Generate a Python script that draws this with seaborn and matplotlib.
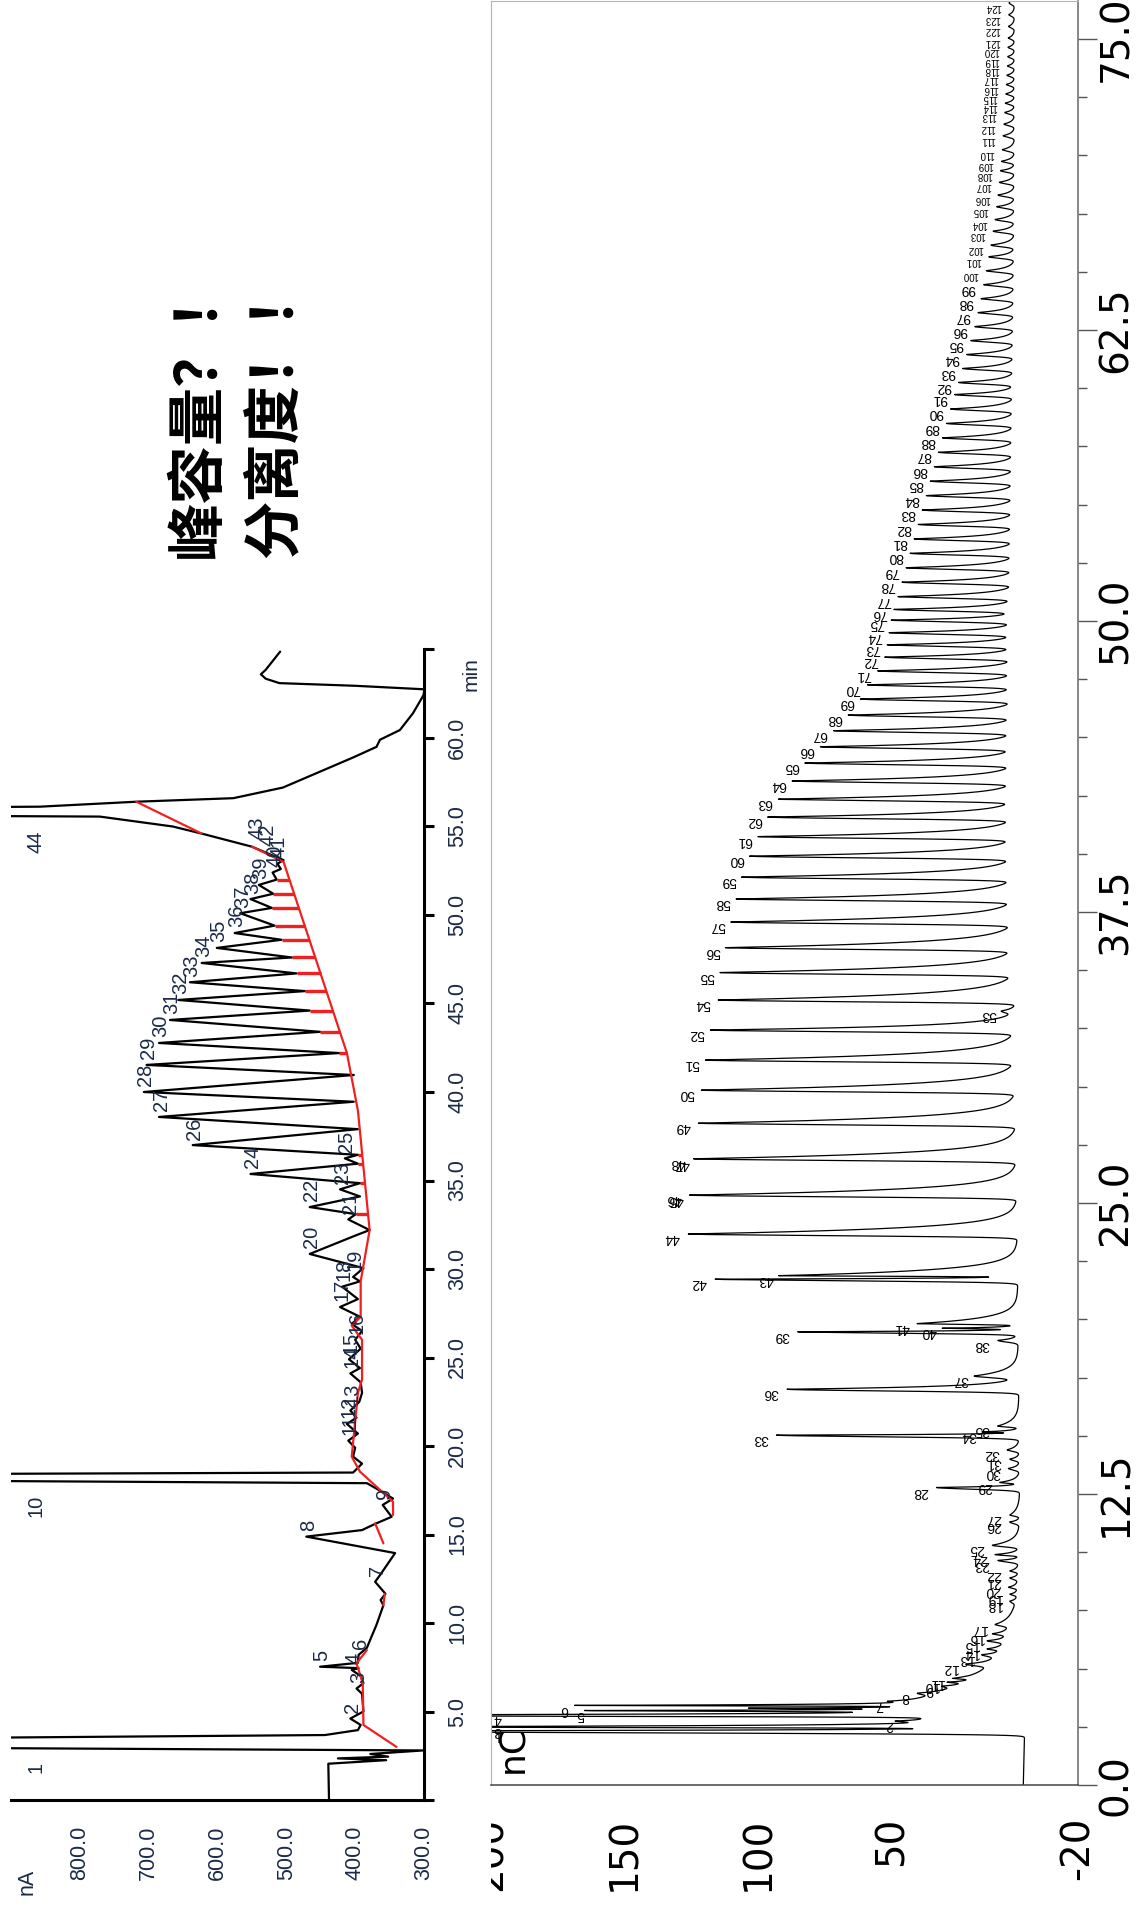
import numpy as np
import matplotlib
matplotlib.use("Agg")
import matplotlib.pyplot as plt
import seaborn as sns
from matplotlib.ticker import MultipleLocator
from matplotlib.transforms import Bbox
from matplotlib import font_manager

sns.set_style("white")
plt.rcParams["font.family"] = ["Liberation Sans", "DejaVu Sans"]

# ---------------- left chromatogram: trace vertices (min, nA) ----------------
fid_t = [0.00, 2.05, 2.25, 2.35, 2.45, 2.60, 2.80, 3.05, 3.35, 3.67, 3.95, 4.24, 4.60, 5.00,
         6.00, 6.30, 6.60, 7.00, 7.35, 7.45, 7.53, 7.75, 8.20, 8.60, 9.90, 11.00, 11.30, 11.65,
         12.33, 12.70, 13.95, 14.88, 15.25, 15.60, 16.00, 16.67, 17.03, 17.50, 17.90, 18.15,
         18.35, 18.50, 19.00, 19.40, 19.90, 20.30, 20.70, 21.25, 21.60, 22.00, 22.50, 23.00,
         23.60, 24.10, 24.40, 24.90, 25.50, 26.00, 26.50, 26.90, 27.30, 27.85, 28.30, 29.00,
         29.30, 29.55, 30.05, 30.85, 31.90, 32.20, 32.80, 33.10, 33.50, 34.10, 34.50, 34.85,
         35.37, 35.95, 36.25, 36.45, 37.00, 37.90, 38.59, 39.45, 40.00, 40.96, 41.53, 42.20,
         42.77, 43.40, 44.07, 44.60, 45.20, 45.70, 46.20, 46.70, 47.29, 47.60, 48.14, 48.60,
         48.98, 49.40, 50.10, 50.40, 50.90, 51.20, 51.70, 52.00, 52.40, 52.60, 52.90, 53.10,
         53.86, 54.60, 55.00, 55.56, 55.70, 55.95, 56.12, 56.40, 56.60, 57.20, 58.10, 58.90,
         59.50, 59.90, 60.45, 61.40, 62.40, 62.75, 62.95, 63.10, 63.35, 63.60, 63.85, 64.88]
fid_v = [438, 439, 355, 425, 352, 378, 301, 1500, 1500, 444, 396, 392, 407, 388,
         390, 398, 388, 392, 405, 395, 451, 396, 395, 383, 369, 359, 363, 356,
         371, 364, 342, 471, 390, 371, 347, 360, 345, 365, 383, 1500,
         1500, 403, 390, 403, 400, 410, 396, 412, 398, 407, 394, 390,
         392, 407, 393, 409, 392, 400, 390, 405, 393, 422, 396, 419,
         393, 403, 388, 466, 399, 379, 410, 399, 466, 393, 422, 393,
         552, 396, 415, 396, 636, 396, 685, 402, 707, 402, 703, 423,
         685, 451, 669, 466, 657, 473, 640, 485, 623, 492, 601, 507,
         575, 517, 567, 521, 552, 519, 540, 514, 520, 508, 513, 504,
         550, 623, 665, 771, 1500, 1500, 858, 718, 577, 505, 451, 403,
         369, 364, 335, 316, 301, 299, 400, 510, 530, 537, 530, 509]

# integration baseline (red), one list per segment
base_t = [[3.0, 4.24, 6.6, 7.72, 8.47],
          [11.0, 11.65],
          [14.5, 15.63],
          [16.1, 16.85, 18.55, 19.4, 23.0, 23.75, 26.0, 26.8, 27.3, 29.3, 32.2, 38.95, 42.2, 53.0, 53.86],
          [54.6, 56.4]]
base_v = [[340, 388, 389, 398, 383],
          [359, 357],
          [359, 371],
          [345, 345, 393, 405, 396, 390, 390, 405, 392, 392, 379, 396, 412, 504, 550],
          [623, 718]]
drop_t = [33.1, 34.85, 35.95, 36.45, 42.2, 43.4, 44.6, 45.7, 46.7, 47.6, 48.6, 49.4,
          50.4, 51.2, 52.0]

fid_lbl = [str(i) for i in range(1, 45)]
fid_lbl_t = [3.2, 4.6, 6.3, 7.35, 7.53, 8.2, 12.33, 14.88, 16.67, 18.25, 20.3, 21.25, 22.0,
             24.1, 24.9, 26.0, 27.85, 29.0, 29.55, 30.85, 32.8, 33.5, 34.5, 35.37, 36.25,
             37.0, 38.59, 40.0, 41.53, 42.77, 44.07, 45.2, 46.2, 47.29, 48.14, 48.98, 50.1,
             50.9, 51.7, 52.4, 52.9, 53.6, 54.0, 55.8]
fid_lbl_v = [1500, 407, 398, 405, 451, 395, 371, 471, 360, 1500, 410, 412, 407,
             407, 409, 400, 422, 419, 403, 466, 410, 466, 422, 552, 415,
             636, 685, 707, 703, 685, 669, 657, 640, 623, 601, 575, 567,
             552, 540, 520, 513, 530, 545, 1500]

# ---------------- right chromatogram: peak table (min, nC) ----------------
pk_lbl = ["1", "3", "2", "4", "5", "", "6", "7", "8", "9", "10", "11", "12", "13", "14",
          "15", "16", "17", "18", "19", "20", "21", "22", "23", "24", "25", "26", "27",
          "28", "29", "30", "31", "32", "33", "34", "35", "36", "37", "38", "39", "40",
          "41", "42", "43", "44", "46", "48"] + [str(i) for i in range(49, 125)]
pk_t = [2.32, 2.50, 2.75, 3.00, 3.20, 3.30, 3.42, 3.60, 3.95, 4.25, 4.42, 4.58, 5.20, 5.60,
        5.85, 6.20, 6.50, 6.90, 7.90, 8.20, 8.50, 8.90, 9.20, 9.65, 9.90, 10.30, 11.30,
        11.60, 12.78, 13.00, 13.60, 14.00, 14.40, 15.03, 15.17, 15.42, 17.00, 17.57, 19.10,
        19.47, 19.62, 19.82, 21.73, 21.88, 23.67, 25.34, 26.90,
        28.43, 29.85, 31.14, 32.43, 33.25, 33.72, 34.90, 35.97, 37.07, 38.06, 39.00, 39.90,
        40.74, 41.58, 42.35, 43.13, 43.90, 44.60, 45.29, 45.96, 46.65, 47.26, 47.86, 48.45,
        48.98, 49.50, 50.04, 50.50, 51.05, 51.67, 52.29, 52.91, 53.53, 54.15, 54.77, 55.39,
        56.01, 56.63, 57.25, 57.87, 58.49, 59.11, 59.73, 60.25, 60.85, 61.45, 62.05, 62.65,
        63.25, 63.85, 64.45, 65.05, 65.65, 66.15, 66.75, 67.25, 67.80, 68.30, 68.85, 69.35,
        69.75, 70.25, 70.85, 71.35, 71.85, 72.25, 72.65, 73.05, 73.45, 73.85, 74.25, 74.65,
        75.05, 75.55, 76.05, 76.55]
pk_v = [280, 260, 46, 320, 162, 101, 168, 50, 40, 31, 29, 27, 22, 16,
        14, 14, 12, 11, 5.5, 5.5, 6, 5.5, 5.5, 10, 11, 12, 5.5,
        5.5, 33, 9, 6, 5.5, 6.5, 93, 15, 10, 89, 18, 10,
        85, 30, 40, 116, 91, 126, 125.4, 123.8,
        122, 120.7, 118.8, 117, 7.5, 114.7, 113, 111, 109, 107, 105, 102,
        98.9, 95.3, 91.3, 86.2, 81.5, 75.7, 70.8, 65.4, 60.9, 58.3, 54.5, 51.9,
        51, 50.3, 49.5, 48.5, 47, 45.5, 44, 42.5, 41, 39.5, 38, 36.5,
        35, 33.5, 32, 30.5, 29, 27.5, 26, 24.5, 23, 21.5, 20, 18.5,
        17.3, 16.2, 15.2, 14.2, 13.3, 12.5, 11.7, 11, 10.4, 9.9, 9.4, 9.0,
        8.6, 8.3, 8.0, 7.7, 7.4, 7.2, 7.0, 6.8, 6.6, 6.4, 6.3, 6.2,
        6.1, 6.0, 5.9, 5.8]
# labels drawn over a neighbour peak
extra_lbl = ["45", "47"]
extra_t = [25.30, 26.86]
extra_v = [124.5, 122.5]
# detector baseline / solvent hump
bl_t = [0.0, 2.2, 2.26, 2.3, 2.6, 3.0, 3.5, 3.8, 4.2, 4.7, 5.2, 6.0, 7.0, 8.0, 10.0, 13.0, 20.0, 40.0, 76.7]
bl_v = [0.5, 0.0, -4.0, 5.0, 30, 40, 44, 37, 27, 18, 13, 8.5, 5.5, 3.0, 2.0, 1.8, 2.5, 3.2, 3.8]

W, H = 1136, 1910
ink = "#1b2a47"
red = "#f02020"
fig = plt.figure(figsize=(W / 100, H / 100), dpi=100, facecolor="white")


def box(x0, y0, x1, y1):
    return [x0 / W, 1 - y1 / H, (x1 - x0) / W, (y1 - y0) / H]


# ================= left panel =================
ax1 = fig.add_axes(box(11, 649.5, 424, 1800))
sns.lineplot(x=fid_v, y=fid_t, sort=False, estimator=None, color="black", lw=1.6, ax=ax1)
for st, sv in zip(base_t, base_v):
    sns.lineplot(x=sv, y=st, sort=False, estimator=None, color=red, lw=1.6, ax=ax1)
for t in drop_t:
    vt = np.interp(t, fid_t, fid_v)
    vb = np.interp(t, base_t[3], base_v[3])
    ax1.plot([vt, vb], [t, t], color=red, lw=2.4, solid_capstyle="butt")

for lab, t, v in zip(fid_lbl, fid_lbl_t, fid_lbl_v):
    if v > 900:
        ax1.annotate(lab, (864, t), xytext=(0, -13), textcoords="offset points",
                     rotation=90, ha="center", va="top", fontsize=14.5, color=ink)
    else:
        ax1.annotate(lab, (v, t), xytext=(1.5, 4), textcoords="offset points",
                     rotation=90, ha="center", va="bottom", fontsize=14.5, color=ink)

ax1.set_xlim(900, 300)
ax1.set_ylim(0, 65)
ax1.set_xlabel("")
ax1.set_ylabel("")
for s in ["left", "top"]:
    ax1.spines[s].set_visible(False)
for s in ["bottom", "right"]:
    ax1.spines[s].set_linewidth(2.2)
    ax1.spines[s].set_color("black")
ax1.set_xticks([900, 800, 700, 600, 500, 400, 300])
ax1.set_xticklabels(["", "800.0", "700.0", "600.0", "500.0", "400.0", "300.0"],
                    rotation=90, color=ink, fontsize=15.5)
ax1.yaxis.tick_right()
ax1.set_yticks(np.arange(0, 66, 5))
ax1.set_yticklabels([""] + ["%.1f" % v for v in range(5, 61, 5)] + [""],
                    rotation=90, va="center", color=ink, fontsize=15.5)
ax1.tick_params(axis="x", direction="out", length=8.6, width=2.2, pad=10, color="black")
ax1.tick_params(axis="y", direction="out", length=7.2, width=2.2, pad=9.4, color="black")

fig.text(27 / W, 1 - 1882 / H, "nA", rotation=90, ha="center", va="center", fontsize=15.5, color=ink)
fig.text(471 / W, 1 - 674 / H, "min", rotation=90, ha="center", va="center", fontsize=15, color=ink)

# ================= right panel =================
ax2 = fig.add_axes(box(491, 1.5, 1078, 1785))
tt = np.arange(0, 76.7, 0.004)
sig = np.interp(tt, bl_t, bl_v)
pt = np.array(pk_t)
pv = np.array(pk_v)
amp = pv - np.interp(pt, bl_t, bl_v)
gap_b = np.diff(np.r_[pt[0] - 2, pt])
gap_f = np.diff(np.r_[pt, pt[-1] + 2])
sf = np.clip(0.16 * gap_b, 0.02, 0.07)
tau = np.clip(0.22 * gap_f, 0.025, 0.26)
for t0, a, s, ta in zip(pt, amp, sf, tau):
    dt = tt - t0
    sig += a * np.where(dt < 0, np.exp(-0.5 * (dt / s) ** 2), np.exp(-np.maximum(dt, 0) / ta))
sns.lineplot(x=sig, y=tt, sort=False, estimator=None, color="black", lw=0.9, ax=ax2)

names = {f.name for f in font_manager.fontManager.ttflist}
narrow = "Liberation Sans Narrow" if "Liberation Sans Narrow" in names else "Liberation Sans"
for lab, t, v in zip(pk_lbl + extra_lbl, pk_t + extra_t, pk_v + extra_v):
    if not lab:
        continue
    fs, fam = (10, "Liberation Sans") if len(lab) < 3 else (8.5 if narrow != "Liberation Sans" else 7, narrow)
    ax2.annotate(lab, (min(v, 193), t), xytext=(-6, -3), textcoords="offset points",
                 rotation=180, ha="right", va="center", fontsize=fs, family=fam,
                 color="black", clip_on=True, annotation_clip=False)

ax2.set_xlim(200, -20)
ax2.set_ylim(0, (1785 - 1.5) / 23.28)
ax2.set_xlabel("")
ax2.set_ylabel("")
for s in ["left", "top"]:
    ax2.spines[s].set_color("#b4b4b4")
    ax2.spines[s].set_linewidth(0.8)
ax2.spines["bottom"].set_color("#444444")
ax2.spines["right"].set_color("#666666")
for s in ["bottom", "right"]:
    ax2.spines[s].set_linewidth(1.1)

ax2.set_xticks([200, 150, 100, 50, -20])
ax2.set_xticklabels(["200", "150", "100", "50", "-20"], rotation=90, fontsize=28,
                    family="DejaVu Sans", color="black")
ax2.xaxis.set_minor_locator(MultipleLocator(10))
ax2.yaxis.tick_right()
ax2.set_yticks([0, 12.5, 25, 37.5, 50, 62.5, 75])
ax2.set_yticklabels(["0.0", "12.5", "25.0", "37.5", "50.0", "62.5", "75.0"], rotation=90,
                    va="center", fontsize=28, family="DejaVu Sans", color="black")
ax2.yaxis.set_minor_locator(MultipleLocator(2.5))
ax2.tick_params(axis="x", which="major", direction="out", length=20, width=1, color="#555555", pad=3)
ax2.tick_params(axis="x", which="minor", direction="out", length=9.4, width=1, color="#555555")
ax2.tick_params(axis="y", which="major", direction="out", length=13.7, width=1, color="#555555", pad=0)
ax2.tick_params(axis="y", which="minor", direction="out", length=6.5, width=1, color="#555555")

for tk, loc in zip(ax2.xaxis.get_major_ticks(), ax2.get_xticks()):
    if loc == 200:
        tk.label1.set_clip_box(Bbox.from_extents(491, 0, W, H))
        tk.label1.set_clip_on(True)

fig.text(512 / W, 1 - 1749 / H, "nC", rotation=90, ha="center", va="center", fontsize=26,
         family="DejaVu Sans", color="black")

# ================= headline =================
cjk = ["Noto Sans CJK SC", "DejaVu Sans"]
fig.text(198 / W, 1 - 412 / H, "峰容量？！", rotation=90, ha="center", va="center",
         fontsize=42, fontweight="bold", family=cjk, color="black")
fig.text(275 / W, 1 - 412 / H, "分离度！！", rotation=90, ha="center", va="center",
         fontsize=42, fontweight="bold", family=cjk, color="black")

fig.savefig("out.png", dpi=100, facecolor="white")
